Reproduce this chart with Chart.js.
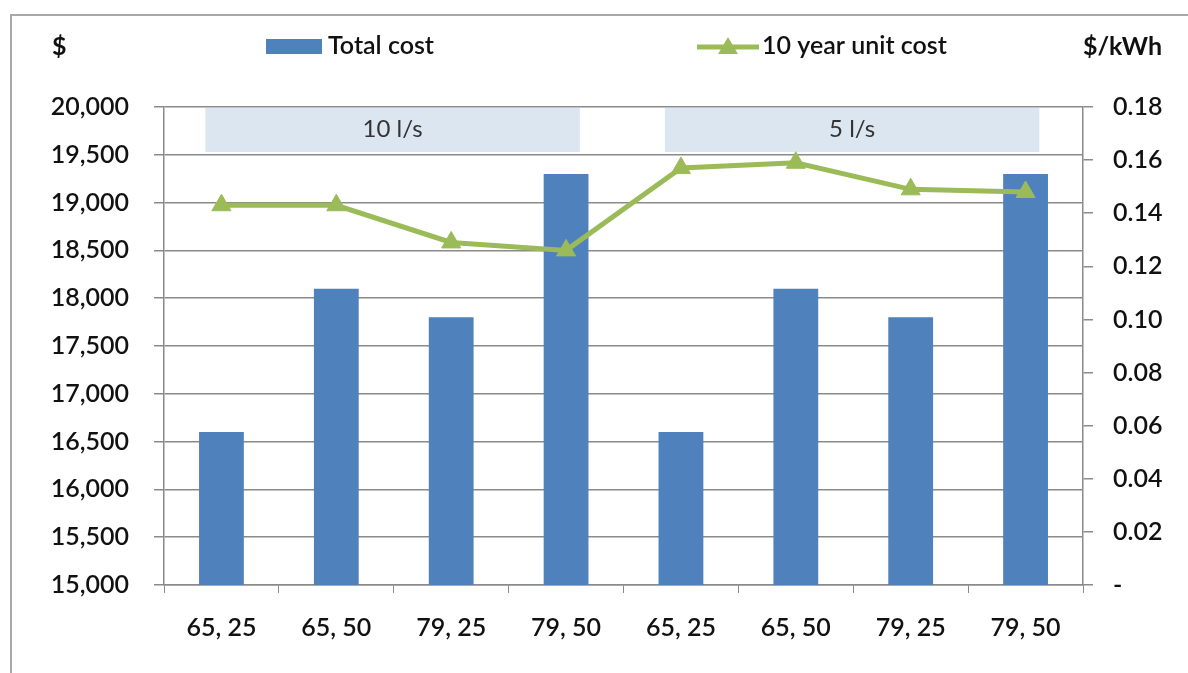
<!DOCTYPE html>
<html>
<head>
<meta charset="utf-8">
<script src="https://cdn.jsdelivr.net/npm/chart.js@4"></script>
<style>
    html, body { margin: 0; padding: 0; background: #fff; }
    #wrap { width: 1188px; height: 673px; position: relative; }
</style>
</head>
<body>
<div id="wrap"><canvas id="costChart"></canvas></div>
<script>
const categories = ['65, 25', '65, 50', '79, 25', '79, 50', '65, 25', '65, 50', '79, 25', '79, 50'];
const totalCost = [16600, 18100, 17800, 19300, 16600, 18100, 17800, 19300];
const unitCost = [0.143, 0.143, 0.129, 0.126, 0.157, 0.159, 0.149, 0.148];
const costRange = [15000, 20000, 500];
const unitRange = [0, 0.18, 0.02];
const groupLabels = ['10 l/s', '5 l/s'];
const groupStart = [0, 4];
const groupEnd = [3, 7];
const groupBottom = 19540;

const FONT = 'Lato';
const TXT = '#111';

const decorPlugin = {
    id: 'decor',
    beforeDraw(chart) {
        const ctx = chart.ctx;
        ctx.save();
        ctx.fillStyle = '#fff';
        ctx.fillRect(0, 0, chart.width, chart.height);
        ctx.strokeStyle = '#a8a8a8';
        ctx.lineWidth = 2;
        ctx.beginPath();
        ctx.moveTo(11, chart.height);
        ctx.lineTo(11, 15);
        ctx.lineTo(chart.width, 15);
        ctx.stroke();
        ctx.restore();
    },
    beforeDatasetsDraw(chart) {
        const ctx = chart.ctx;
        const x = chart.scales.x;
        const y = chart.scales.y;
        const cw = x.getPixelForValue(1) - x.getPixelForValue(0);
        ctx.save();
        groupLabels.forEach((label, i) => {
            const left = x.getPixelForValue(groupStart[i]) - 0.14 * cw;
            const right = x.getPixelForValue(groupEnd[i]) + 0.12 * cw;
            const top = y.getPixelForValue(costRange[1]);
            const bottom = y.getPixelForValue(groupBottom);
            ctx.fillStyle = '#dce6f1';
            ctx.fillRect(left, top + 1, right - left, bottom - top);
            ctx.fillStyle = '#333';
            ctx.font = '24px ' + FONT;
            ctx.textAlign = 'center';
            ctx.textBaseline = 'middle';
            ctx.fillText(label, (left + right) / 2, (top + bottom) / 2);
        });
        ctx.restore();
    },
    afterDraw(chart) {
        const ctx = chart.ctx;
        ctx.save();
        ctx.fillStyle = TXT;
        ctx.font = 'bold 25px ' + FONT;
        ctx.textBaseline = 'middle';
        ctx.textAlign = 'left';
        ctx.fillText('$', 52, 47);
        ctx.textAlign = 'right';
        ctx.fillText('$/kWh', 1162, 47);

        // legend
        const bar = chart.data.datasets[0];
        const line = chart.data.datasets[1];
        ctx.fillStyle = bar.backgroundColor;
        ctx.fillRect(266, 39, 56, 15);
        ctx.fillStyle = TXT;
        ctx.font = '600 25px ' + FONT;
        ctx.textAlign = 'left';
        ctx.fillText(bar.label, 328, 46);

        ctx.strokeStyle = line.borderColor;
        ctx.lineWidth = 5;
        ctx.beginPath();
        ctx.moveTo(697, 47);
        ctx.lineTo(759, 47);
        ctx.stroke();
        ctx.fillStyle = line.borderColor;
        ctx.beginPath();
        ctx.moveTo(728, 37);
        ctx.lineTo(738, 54);
        ctx.lineTo(718, 54);
        ctx.closePath();
        ctx.fill();
        ctx.fillStyle = TXT;
        ctx.fillText(line.label, 762, 46);
        ctx.restore();
    }
};

const tickFont = { family: FONT, size: 25, weight: 600 };

const ctx = document.getElementById('costChart').getContext('2d');
new Chart(ctx, {
    type: 'bar',
    data: {
        labels: categories,
        datasets: [{
            label: 'Total cost',
            data: totalCost,
            yAxisID: 'y',
            backgroundColor: '#4f81bd',
            barPercentage: 0.39,
            categoryPercentage: 1,
            order: 1
        }, {
            type: 'line',
            label: '10 year unit cost',
            data: unitCost,
            yAxisID: 'y1',
            borderColor: '#9bbb59',
            backgroundColor: '#9bbb59',
            borderWidth: 5,
            pointStyle: 'triangle',
            pointRadius: 11,
            pointBorderWidth: 1,
            tension: 0,
            order: 0
        }]
    },
    options: {
        responsive: true,
        maintainAspectRatio: false,
        animation: false,
        layout: { padding: { top: 107, left: 0, right: 0, bottom: 0 } },
        plugins: {
            legend: { display: false },
            tooltip: { enabled: false }
        },
        scales: {
            x: {
                offset: true,
                grid: {
                    offset: true,
                    drawOnChartArea: false,
                    color: '#8a8a8a',
                    tickLength: 8
                },
                border: { color: '#8a8a8a', width: 1.5 },
                ticks: {
                    color: TXT,
                    font: tickFont,
                    padding: 20,
                    maxRotation: 0
                },
                afterFit(scale) { scale.height = 88; }
            },
            y: {
                position: 'left',
                min: costRange[0],
                max: costRange[1],
                grid: { color: '#8a8a8a', lineWidth: 1.5, tickLength: 10 },
                border: { color: '#8a8a8a', width: 1.5 },
                ticks: {
                    stepSize: costRange[2],
                    color: TXT,
                    font: tickFont,
                    padding: 25,
                    callback: v => v.toLocaleString('en-US')
                },
                afterFit(scale) { scale.width = 164; }
            },
            y1: {
                position: 'right',
                min: unitRange[0],
                max: unitRange[1],
                grid: { drawOnChartArea: false, color: '#8a8a8a', lineWidth: 1.5, tickLength: 10 },
                border: { color: '#8a8a8a', width: 1.5 },
                ticks: {
                    stepSize: unitRange[2],
                    color: TXT,
                    font: tickFont,
                    padding: 20,
                    callback: v => (Math.abs(v) < 1e-9 ? '-' : v.toFixed(2))
                },
                afterFit(scale) { scale.width = 105; }
            }
        }
    },
    plugins: [decorPlugin]
});
</script>
</body>
</html>
